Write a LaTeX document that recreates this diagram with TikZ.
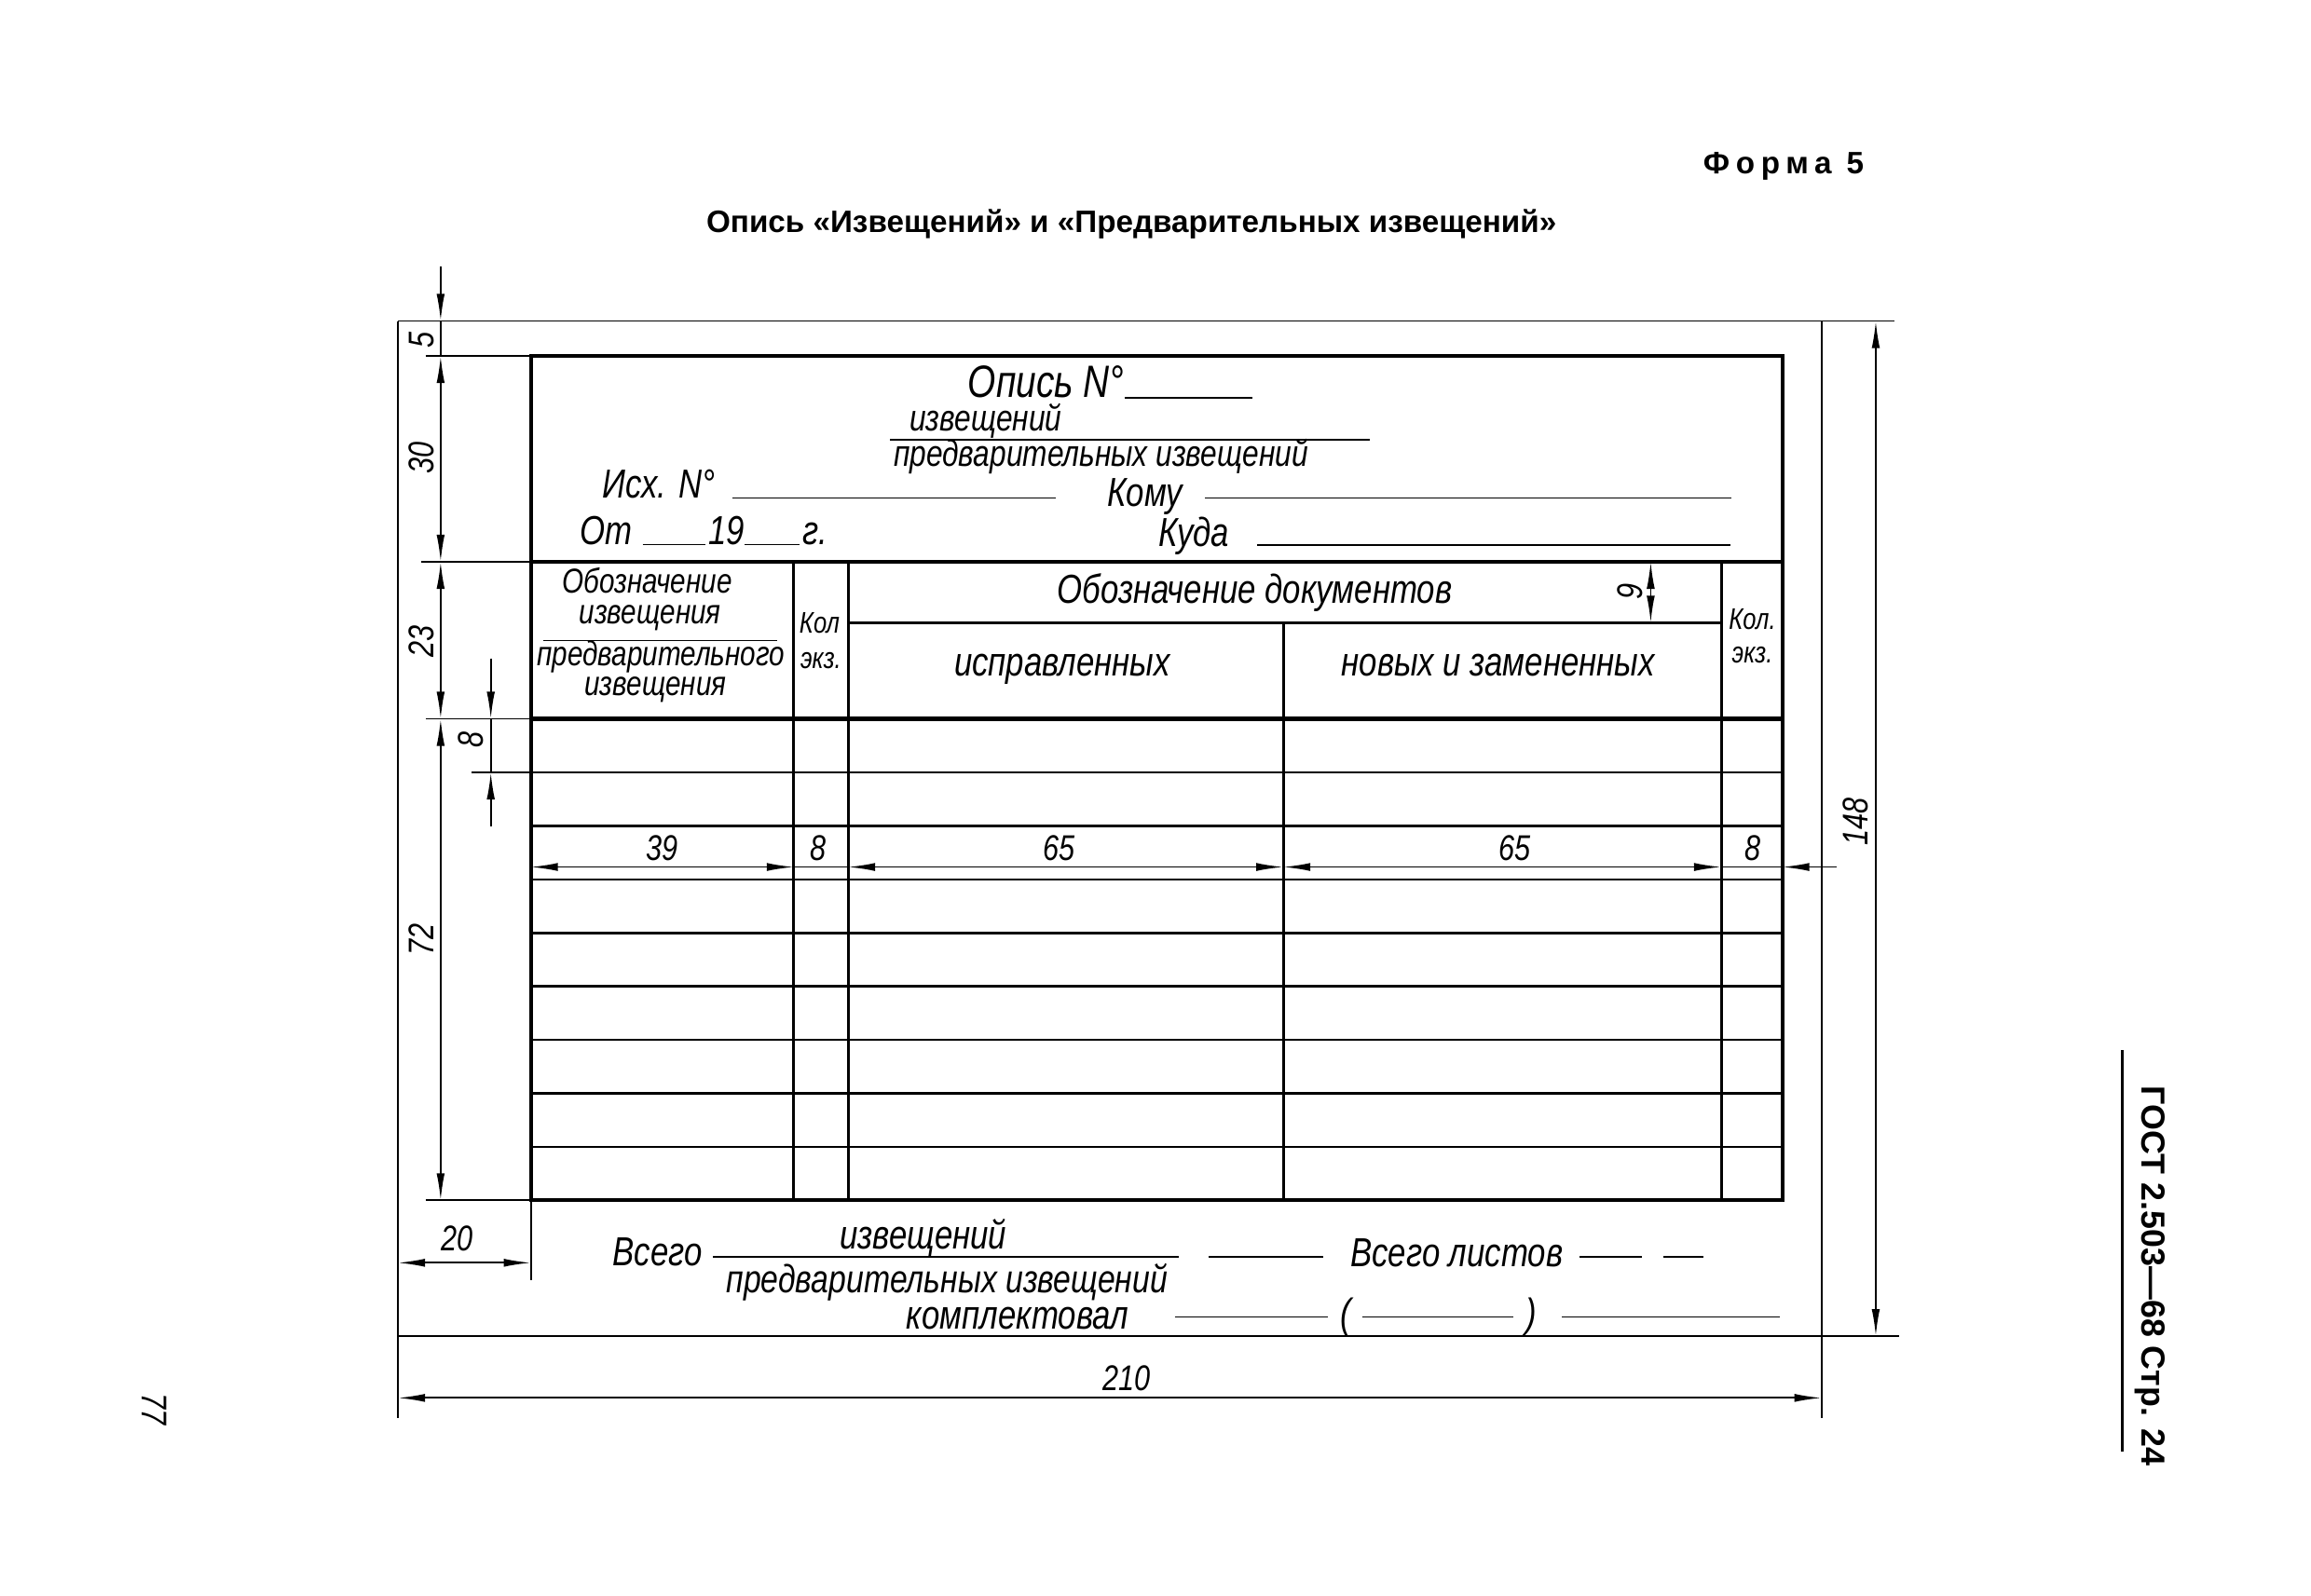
\documentclass[tikz,border=0pt]{standalone}
\usepackage{fontspec}
\setmainfont{Liberation Sans}
\newfontfamily\gost{Liberation Sans}[FakeStretch=0.8]
\usetikzlibrary{arrows.meta}

\tikzset{
  lbl/.style={font=\gost\itshape\fontsize{17}{18}\selectfont, inner sep=0pt},
  frc/.style={font=\gost\itshape\fontsize{15.5}{16}\selectfont, inner sep=0pt},
  colhd/.style={font=\gost\itshape\fontsize{14.5}{15}\selectfont, inner sep=0pt},
  sml/.style={font=\gost\itshape\fontsize{12.5}{13}\selectfont, inner sep=0pt},
  num/.style={font=\gost\itshape\fontsize{15}{16}\selectfont, inner sep=0pt},
  thn/.style={line width=0.7pt},
  frm/.style={line width=1.6pt},
  dimline/.style={thn, {Latex[length=4mm,width=1.2mm]}-{Latex[length=4mm,width=1.2mm]}},
  dimend/.style={thn, -{Latex[length=4mm,width=1.2mm]}},
}

\begin{document}
\begin{tikzpicture}[x=1mm, y=1.012mm]
\useasboundingbox (-58.7,-37.8) rectangle (282.2,194.8);

\node[font=\bfseries\fontsize{13}{14}\selectfont\addfontfeatures{LetterSpace=20}, anchor=base east, inner sep=0pt] (forma) at (216.3,169.5) {Форма 5};
\node[font=\bfseries\fontsize{13}{14}\selectfont, anchor=base, inner sep=0pt] (title) at (108.2,160.9) {Опись «Извещений» и «Предварительных извещений»};

\draw[thn] (0,148) -- (220.7,148);
\draw[thn] (0,0) -- (221.5,0);
\draw[thn] (0,148) -- (0,-12);
\draw[thn] (210,148) -- (210,-12);

\draw[frm] (19.6,19.8) rectangle (204.2,142.9);
\draw[frm] (19.6,112.9) -- (204.2,112.9);
\draw[frm] (19.6,90) -- (204.2,90);
\draw[line width=1.3pt] (66.4,104) -- (195.2,104);
\foreach \cx in {58.4,66.4,195.2} \draw[line width=1.2pt] (\cx,112.9) -- (\cx,19.8);
\draw[line width=1.2pt] (130.6,104) -- (130.6,19.8);
\foreach \i in {1,...,8} \draw[line width=1pt] (19.6,90-7.8*\i) -- (204.2,90-7.8*\i);

\node[lbl, font=\gost\itshape\fontsize{19}{20}\selectfont, anchor=base east] (opis) at (107.2,136.8) {Опись N°};
\draw[thn] (opis.base east) -- ++(18.9,0);
\node[frc, anchor=base] (izvA) at (86.7,132.0) {извещений};
\draw[thn] (72.6,130.7) -- (143.3,130.7);
\node[frc, anchor=base] (predA) at (103.7,126.8) {предварительных извещений};
\node[lbl, anchor=base] (ish) at (38.5,122.2) {Исх. N°};
\draw[thn] (49.3,122.2) -- (97.0,122.2);
\node[lbl, anchor=base] (komu) at (110.2,121.0) {Кому};
\draw[thn] (119.1,122.2) -- (196.7,122.2);
\node[lbl, anchor=base] (ot) at (30.7,115.4) {От};
\draw[thn] (36.1,115.4) -- (45.4,115.4);
\node[lbl, anchor=base] (god) at (48.5,115.4) {19};
\draw[thn] (51.1,115.4) -- (59.3,115.4);
\node[lbl, anchor=base] (g) at (61.5,115.4) {г.};
\node[lbl, anchor=base] (kuda) at (117.4,115.2) {Куда};
\draw[thn] (126.7,115.3) -- (196.5,115.3);

\node[colhd, anchor=base] (oboz) at (36.8,108.3) {Обозначение};
\node[colhd, anchor=base] (izvB) at (37.2,103.9) {извещения};
\draw[thn] (21.5,101.4) -- (55.9,101.4);
\node[colhd, anchor=base] (predB) at (38.8,97.8) {предварительного};
\node[colhd, anchor=base] (izvC) at (38.0,93.4) {извещения};
\node[sml, anchor=base] (kolA) at (62.2,102.5) {Кол};
\node[sml, anchor=base] (ekzA) at (62.4,97.3) {экз.};
\node[lbl, anchor=base] (obozdoc) at (126.4,106.8) {Обозначение документов};
\draw[dimline] (184.8,112.9) -- (184.8,104);
\node[num, rotate=90, anchor=base] (nine) at (183.6,108.5) {9};
\node[sml, anchor=base] (kolB) at (199.8,103.1) {Кол.};
\node[sml, anchor=base] (ekzB) at (199.8,98.2) {экз.};
\node[lbl, anchor=base] (ispr) at (98.0,96.2) {исправленных};
\node[lbl, anchor=base] (novyh) at (162.3,96.2) {новых и замененных};

\draw[dimline] (19.6,68.4) -- (58.4,68.4);
\draw[thn] (58.4,68.4) -- (66.4,68.4);
\draw[dimline] (66.4,68.4) -- (130.6,68.4);
\draw[dimline] (130.6,68.4) -- (195.2,68.4);
\draw[thn] (195.2,68.4) -- (204.2,68.4);
\draw[dimend] (212.2,68.4) -- (204.2,68.4);
\foreach \nx/\nv [count=\k] in {39.0/39, 62.0/8, 97.5/65, 164.8/65, 199.8/8}
  \node[num, anchor=base] (wd\k) at (\nx,69.4) {\nv};

\draw[thn] (4.1,142.9) -- (19.6,142.9);
\draw[thn] (3.5,112.9) -- (19.6,112.9);
\draw[thn] (4.1,90) -- (19.6,90);
\draw[thn] (4.1,19.8) -- (19.6,19.8);
\draw[dimend] (6.3,156) -- (6.3,148);
\draw[thn] (6.3,148) -- (6.3,142.9);
\draw[dimline] (6.3,142.9) -- (6.3,112.9);
\draw[dimline] (6.3,112.9) -- (6.3,90);
\draw[dimline] (6.3,90) -- (6.3,19.8);
\foreach \ny/\nv [count=\k] in {145.2/5, 128.0/30, 101.3/23, 57.8/72}
  \node[num, rotate=90, anchor=base] (ht\k) at (5.3,\ny) {\nv};

\draw[thn] (10.9,82.2) -- (19.6,82.2);
\draw[dimend] (13.7,98.8) -- (13.7,90);
\draw[thn] (13.7,90) -- (13.7,82.2);
\draw[dimend] (13.7,74.3) -- (13.7,82.2);
\node[num, rotate=90, anchor=base] (rowh) at (12.6,87.0) {8};

\draw[dimline] (218,148) -- (218,0);
\node[num, rotate=90, anchor=base] (h148) at (216.9,75) {148};
\draw[dimline] (0,-9) -- (210,-9);
\node[num, anchor=base] (w210) at (107.5,-7.9) {210};
\draw[thn] (19.6,19.8) -- (19.6,8.2);
\draw[dimline] (0,10.7) -- (19.6,10.7);
\node[num, anchor=base] (w20) at (8.7,12.5) {20};

\node[lbl, anchor=base] (vsego) at (38.3,10.3) {Всего};
\node[lbl, anchor=base] (izvD) at (77.5,12.7) {извещений};
\draw[thn] (46.5,11.6) -- (115.2,11.6);
\node[lbl, font=\gost\itshape\fontsize{16.5}{17}\selectfont, anchor=base] (predD) at (81.0,6.4) {предварительных извещений};
\draw[thn] (119.6,11.6) -- (136.5,11.6);
\node[lbl, anchor=base] (listov) at (156.2,10.1) {Всего листов};
\draw[thn] (174.3,11.6) -- (183.5,11.6);
\draw[thn] (186.7,11.6) -- (192.6,11.6);
\node[lbl, anchor=base] (kompl) at (91.4,1.0) {комплектовал};
\draw[thn] (114.6,2.8) -- (137.2,2.8);
\node[lbl, anchor=base] (lpar) at (139.8,1.3) {(};
\draw[thn] (142.2,2.8) -- (164.6,2.8);
\node[lbl, anchor=base] (rpar) at (167.2,1.3) {)};
\draw[thn] (171.7,2.8) -- (203.9,2.8);

\draw[line width=1.2pt] (254.3,41.7) -- (254.3,-16.8);
\node[font=\bfseries\fontsize{14}{15}\selectfont, rotate=-90, anchor=base, inner sep=0pt] (gost) at (257.2,8.8) {ГОСТ 2.503—68 Стр. 24};
\node[num, rotate=-90, anchor=base] (pnum) at (-37.8,-10.6) {77};

\end{tikzpicture}
\end{document}
